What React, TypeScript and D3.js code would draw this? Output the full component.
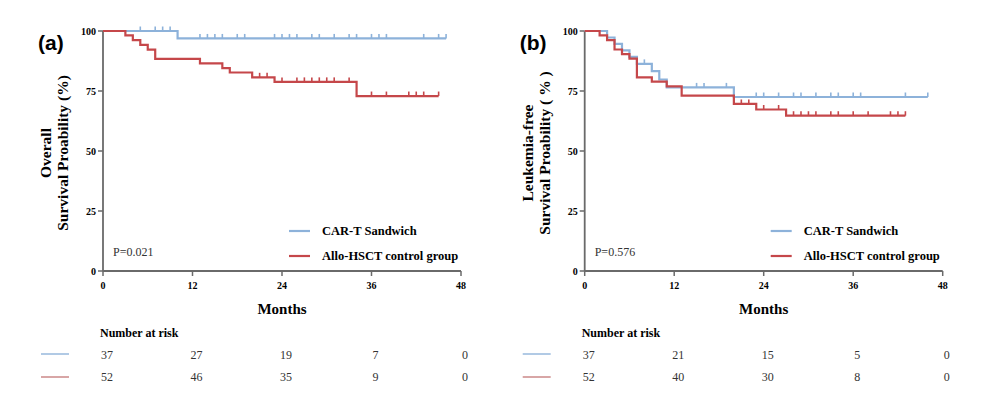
import React from "react";
import * as d3 from "d3";

// ---- data ----
const xTicks = [0, 12, 24, 36, 48];
const yTicks = [0, 25, 50, 75, 100];
const seriesNames = ["CAR-T Sandwich", "Allo-HSCT control group"];

// panel (a) overall survival: [month, survival %]
const osCarTSteps = [[10, 96.9]];
const osCarTCensor = [5, 7, 8, 9, 13, 14, 15, 16, 18, 19, 23, 24, 25, 26, 28, 29, 31, 33, 34, 36, 37, 38, 43, 45, 46];
const osCarTEnd = 46;
const osAlloSteps = [
  [3, 98.2], [4, 96.2], [5, 94.2], [6, 92.2], [7, 88.4], [13, 86.5],
  [16, 84.5], [17, 82.7], [20, 80.7], [23, 78.8], [34, 72.9],
];
const osAlloCensor = [21, 22, 24, 26, 27, 28, 29, 30, 31, 33, 36, 38, 41, 42, 43, 45];
const osAlloEnd = 45;
const osRiskCarT = [37, 27, 19, 7, 0];
const osRiskAllo = [52, 46, 35, 9, 0];

// panel (b) leukemia-free survival
const lfsCarTSteps = [
  [3, 97.3], [4, 94.6], [5, 91.9], [6, 89.2], [7, 86.3], [9, 83.3],
  [10, 79.8], [11, 76.5], [20, 72.5],
];
const lfsCarTCensor = [8, 15, 16, 19, 23, 24, 26, 28, 29, 31, 33, 34, 36, 37, 43, 46];
const lfsCarTEnd = 46;
const lfsAlloSteps = [
  [2, 98.2], [3, 96.2], [4, 92.3], [5, 90.4], [6, 88.5], [7, 80.7],
  [9, 78.9], [11, 76.9], [13, 73.1], [20, 69.6], [23, 67.3], [27, 64.7],
];
const lfsAlloCensor = [21, 22, 24, 26, 28, 29, 30, 31, 33, 34, 36, 38, 41, 42, 43];
const lfsAlloEnd = 43;
const lfsRiskCarT = [37, 21, 15, 5, 0];
const lfsRiskAllo = [52, 40, 30, 8, 0];

const BLUE = "#8db2da";
const RED = "#c5474a";
const AXIS = "#6a6a6a";
const SERIF = "'Liberation Serif', 'Times New Roman', serif";
const SANS = "'Liberation Sans', Arial, sans-serif";

function survivalAt(steps: number[][], t: number) {
  let v = 100;
  steps.forEach((s) => { if (s[0] <= t) v = s[1]; });
  return v;
}

function Curve({ steps, censor, end, color, x, y }: any) {
  const pts = [[0, 100], ...steps, [end, steps[steps.length - 1][1]]];
  const line = d3.line<number[]>()
    .x((d) => x(d[0]))
    .y((d) => y(d[1]))
    .curve(d3.curveStepAfter);
  return (
    <g>
      <path d={line(pts) || ""} fill="none" stroke={color} strokeWidth={2.2} />
      {censor.map((t: number, i: number) => (
        <line key={i} x1={x(t)} x2={x(t)} y1={y(survivalAt(steps, t))} y2={y(survivalAt(steps, t)) - 4.5}
          stroke={color} strokeWidth={1.6} />
      ))}
    </g>
  );
}

function Panel({ left, tag, titles, pval, blue, red, riskBlue, riskRed }: any) {
  const x = d3.scaleLinear().domain([0, 48]).range([left, left + 358]);
  const y = d3.scaleLinear().domain([0, 100]).range([271, 31]);
  const midX = (x(0) + x(48)) / 2;
  return (
    <g>
      <text x={left - 65} y={50} fontFamily={SANS} fontWeight="bold" fontSize={21}>{tag}</text>
      {/* y axis title */}
      <text transform={`translate(${left - 52},153) rotate(-90)`} textAnchor="middle"
        fontFamily={SERIF} fontWeight="bold" fontSize={15.5}>{titles[0]}</text>
      <text transform={`translate(${left - 35},153) rotate(-90)`} textAnchor="middle"
        fontFamily={SERIF} fontWeight="bold" fontSize={15.5}>{titles[1]}</text>

      {/* axes */}
      <line x1={x(0)} x2={x(0)} y1={y(0)} y2={y(100)} stroke={AXIS} strokeWidth={1.8} />
      <line x1={x(0)} x2={x(48)} y1={y(0)} y2={y(0)} stroke={AXIS} strokeWidth={1.8} />
      {yTicks.map((t) => (
        <g key={t}>
          <line x1={x(0) - 5} x2={x(0)} y1={y(t)} y2={y(t)} stroke={AXIS} strokeWidth={1.5} />
          <text x={x(0) - 7} y={y(t) + 3.5} textAnchor="end" fontFamily={SERIF} fontWeight="bold" fontSize={10}>{t}</text>
        </g>
      ))}
      {xTicks.map((t) => (
        <g key={t}>
          <line x1={x(t)} x2={x(t)} y1={y(0)} y2={y(0) + 5} stroke={AXIS} strokeWidth={1.5} />
          <text x={x(t)} y={y(0) + 18} textAnchor="middle" fontFamily={SERIF} fontWeight="bold" fontSize={10}>{t}</text>
        </g>
      ))}
      <text x={midX} y={314} textAnchor="middle" fontFamily={SERIF} fontWeight="bold" fontSize={15}>Months</text>

      <Curve {...blue} color={BLUE} x={x} y={y} />
      <Curve {...red} color={RED} x={x} y={y} />

      {/* legend */}
      <line x1={x(0) + 186} x2={x(0) + 207} y1={231} y2={231} stroke={BLUE} strokeWidth={2.2} />
      <text x={x(0) + 219} y={235} fontFamily={SERIF} fontWeight="bold" fontSize={12.5}>{seriesNames[0]}</text>
      <line x1={x(0) + 186} x2={x(0) + 207} y1={256} y2={256} stroke={RED} strokeWidth={2.2} />
      <text x={x(0) + 219} y={260} fontFamily={SERIF} fontWeight="bold" fontSize={12.5}>{seriesNames[1]}</text>
      <text x={x(0) + 10} y={256} fontFamily={SERIF} fontSize={12} fill="#333">{pval}</text>

      {/* number at risk */}
      <text x={x(0) - 3} y={337} fontFamily={SERIF} fontWeight="bold" fontSize={12}>Number at risk</text>
      <line x1={x(0) - 62} x2={x(0) - 34} y1={354} y2={354} stroke="#a9c5e3" strokeWidth={1.8} />
      <line x1={x(0) - 62} x2={x(0) - 34} y1={377} y2={377} stroke="#d49c9c" strokeWidth={1.8} />
      {xTicks.map((t, i) => (
        <g key={t}>
          <text x={x(t) + 4} y={359} textAnchor="middle" fontFamily={SERIF} fontSize={12} fill="#333">{riskBlue[i]}</text>
          <text x={x(t) + 4} y={381} textAnchor="middle" fontFamily={SERIF} fontSize={12} fill="#333">{riskRed[i]}</text>
        </g>
      ))}
    </g>
  );
}

export default function App() {
  return (
    <svg width={1000} height={399} style={{ position: "absolute", left: 0, top: 0, background: "#fff" }}>
      <Panel left={103} tag="(a)" titles={["Overall", "Survival Proability (%)"]} pval="P=0.021"
        blue={{ steps: osCarTSteps, censor: osCarTCensor, end: osCarTEnd }}
        red={{ steps: osAlloSteps, censor: osAlloCensor, end: osAlloEnd }}
        riskBlue={osRiskCarT} riskRed={osRiskAllo} />
      <Panel left={584.7} tag="(b)" titles={["Leukemia-free", "Survival Proability ( % )"]} pval="P=0.576"
        blue={{ steps: lfsCarTSteps, censor: lfsCarTCensor, end: lfsCarTEnd }}
        red={{ steps: lfsAlloSteps, censor: lfsAlloCensor, end: lfsAlloEnd }}
        riskBlue={lfsRiskCarT} riskRed={lfsRiskAllo} />
    </svg>
  );
}
